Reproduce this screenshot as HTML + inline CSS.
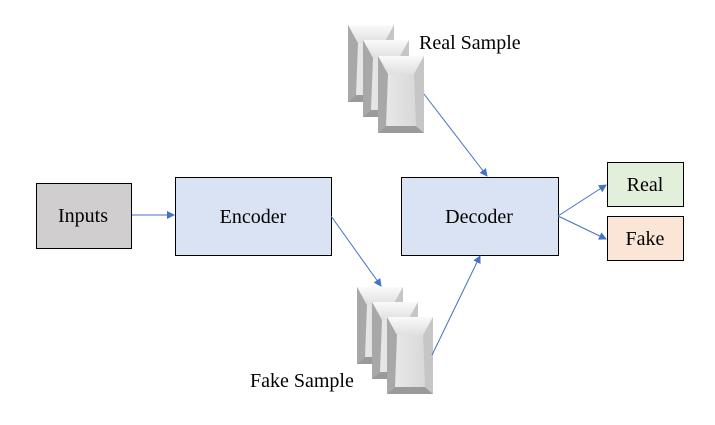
<!DOCTYPE html><html><head><style>body{margin:0;background:#fff}</style></head><body>
<svg width="715" height="420" xmlns="http://www.w3.org/2000/svg" font-family="Liberation Serif, serif">
<defs>
<linearGradient id="g" x1="0" y1="0" x2="1" y2="0"><stop offset="0" stop-color="#bdbdbd"/><stop offset="0.15" stop-color="#e8e8e8"/><stop offset="1" stop-color="#d4d4d4"/></linearGradient>
<linearGradient id="t" x1="0" y1="0" x2="0" y2="1"><stop offset="0" stop-color="#fafafa"/><stop offset="1" stop-color="#e0e0e0"/></linearGradient>
<marker id="a" markerWidth="8" markerHeight="8" refX="7" refY="4" orient="auto" markerUnits="userSpaceOnUse"><path d="M0,0 L8,4 L0,8 z" fill="#4472c4"/></marker>
<g id="p"><rect x="0" y="0" width="46" height="77" fill="url(#g)"/>
<polygon points="0,0 46,0 36,18 10,18" fill="url(#t)"/>
<polygon points="0,77 46,77 38,70 8,70" fill="#9a9a9a"/>
<polygon points="46,0 46,77 38,70 36,18" fill="#c6c6c6"/>
<polygon points="0,0 10,18 8,70 0,77" fill="#a8a8a8"/></g>
</defs>
<use href="#p" x="348" y="25"/><use href="#p" x="363" y="40"/><use href="#p" x="378" y="56"/>
<use href="#p" x="357" y="287"/><use href="#p" x="372" y="302"/><use href="#p" x="387" y="317"/>
<g stroke="#000" stroke-width="1">
<rect x="36.5" y="183.5" width="95" height="65" fill="#d0cece"/>
<rect x="175.5" y="177.5" width="156" height="78" fill="#dae3f3"/>
<rect x="401.5" y="177.5" width="157" height="78" fill="#dae3f3"/>
<rect x="607.5" y="162.5" width="76" height="44" fill="#e2efda"/>
<rect x="607.5" y="216.5" width="76" height="44" fill="#fbe5d6"/>
</g>
<g stroke="#4472c4" stroke-width="1" fill="none" marker-end="url(#a)">
<line x1="132" y1="215" x2="174" y2="215"/>
<line x1="331" y1="216" x2="381" y2="286"/>
<line x1="424" y1="94" x2="487" y2="176"/>
<line x1="432" y1="355" x2="480" y2="256"/>
<line x1="558" y1="216" x2="606" y2="185"/>
<line x1="558" y1="216" x2="606" y2="239"/>
</g>
<g font-size="20" text-anchor="middle" fill="#000">
<text x="83" y="222">Inputs</text>
<text x="253" y="223">Encoder</text>
<text x="479" y="223">Decoder</text>
<text x="645" y="191">Real</text>
<text x="645" y="245">Fake</text>
</g>
<g font-size="20" fill="#000">
<text x="419" y="49">Real Sample</text>
<text x="250" y="387">Fake Sample</text>
</g>
</svg></body></html>
